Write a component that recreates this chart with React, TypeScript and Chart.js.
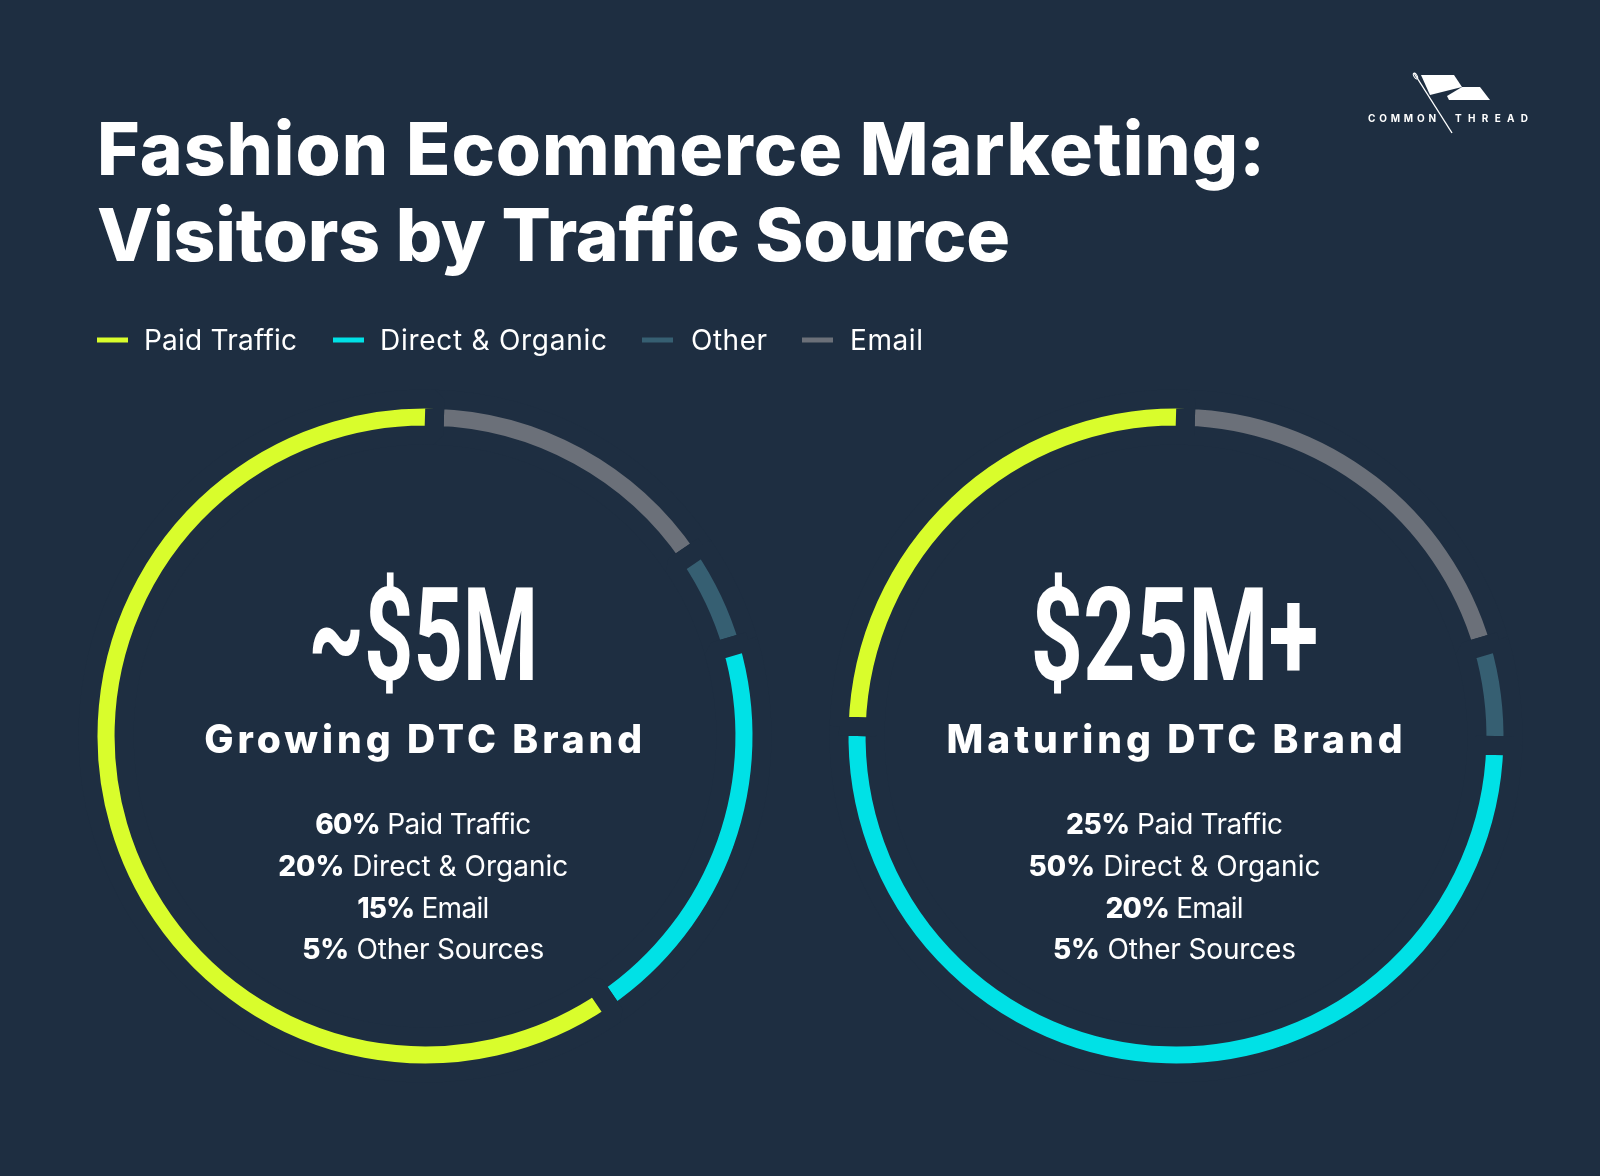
import React, { useEffect, useRef } from "react";
import { Chart, registerables } from "chart.js";

Chart.register(...registerables);

// ---- data ----
const sources = ["Email", "Other", "Direct & Organic", "Paid Traffic"];
const sourceColors = ["#6b7079", "#365f72", "#00e1e6", "#d9fd2c"];
const growingValues = [15, 5, 20, 60];
const maturingValues = [20, 5, 50, 25];
const legendLabels = ["Paid Traffic", "Direct & Organic", "Other", "Email"];
const brandNames = ["Growing DTC Brand", "Maturing DTC Brand"];
const brandRevenue = ["~$5M", "$25M+"];
const statLabels = ["Paid Traffic", "Direct & Organic", "Email", "Other Sources"];
const statSourceIndex = [3, 2, 0, 1];
const titleLines = ["Fashion Ecommerce Marketing:", "Visitors by Traffic Source"];

// ---- layout / style ----
const BG = "#1e2e41";
const FONT = "Inter, 'Noto Sans', sans-serif";
const RING_SIZE = 700;
const ringCenters = [
  { x: 424.7, y: 735.5 },
  { x: 1176, y: 735.5 },
];
const legendLayout = [
  { line: 97, text: 144, w: 153 },
  { line: 333, text: 380, w: 227 },
  { line: 642, text: 691, w: 76 },
  { line: 802, text: 850, w: 73 },
];
const statWidths = [
  [216, 290, 132, 242],
  [217, 292, 138, 243],
];
const statBaselines = [834, 876, 918, 959];
const brandWidths = [438, 456];
const revenueWidths = [230, 288];
const titleWidths = [1168, 913];

function Ring({ values, cx, cy }: { values: number[]; cx: number; cy: number }) {
  const ref = useRef<HTMLCanvasElement>(null);
  useEffect(() => {
    const chart = new Chart(ref.current as HTMLCanvasElement, {
      type: "doughnut",
      data: {
        labels: sources,
        datasets: [
          {
            data: values,
            backgroundColor: sourceColors,
            borderColor: BG,
            borderWidth: 19,
            hoverBorderWidth: 19,
            hoverOffset: 0,
          },
        ],
      },
      options: {
        animation: false,
        responsive: false,
        maintainAspectRatio: false,
        radius: 337,
        cutout: "89.3%",
        rotation: 1.7,
        events: [],
        layout: { padding: 0 },
        plugins: { legend: { display: false }, tooltip: { enabled: false } },
      } as any,
    });
    return () => chart.destroy();
  }, []);
  return (
    <canvas
      ref={ref}
      width={RING_SIZE}
      height={RING_SIZE}
      style={{
        position: "absolute",
        left: cx - RING_SIZE / 2,
        top: cy - RING_SIZE / 2,
        width: RING_SIZE,
        height: RING_SIZE,
      }}
    />
  );
}

export default function App() {
  const allValues = [growingValues, maturingValues];
  return (
    <div
      style={{
        position: "absolute",
        left: 0,
        top: 0,
        width: 1600,
        height: 1176,
        background: BG,
        overflow: "hidden",
      }}
    >
      {allValues.map((v, i) => (
        <Ring key={i} values={v} cx={ringCenters[i].x} cy={ringCenters[i].y} />
      ))}
      <svg
        width={1600}
        height={1176}
        style={{ position: "absolute", left: 0, top: 0, whiteSpace: "pre" }}
        fontFamily={FONT}
      >
        {/* title */}
        {titleLines.map((t, i) => (
          <text
            key={t}
            x={97}
            y={i === 0 ? 175 : 261}
            fontSize={73}
            fontWeight={800}
            fill="#ffffff"
            textLength={titleWidths[i]}
            lengthAdjust="spacing"
          >
            {t}
          </text>
        ))}

        {/* legend */}
        {legendLabels.map((l, i) => (
          <g key={l}>
            <rect
              x={legendLayout[i].line}
              y={337.5}
              width={31}
              height={5}
              fill={sourceColors[sources.indexOf(l)]}
            />
            <text
              x={legendLayout[i].text}
              y={350}
              fontSize={28}
              fontWeight={400}
              fill="#ffffff"
              textLength={legendLayout[i].w}
              lengthAdjust="spacing"
            >
              {l}
            </text>
          </g>
        ))}

        {/* ring centre texts */}
        {allValues.map((vals, r) => {
          const cx = ringCenters[r].x - 1.5;
          return (
            <g key={r}>
              <text
                x={cx}
                y={680}
                textAnchor="middle"
                fontFamily="Roboto, 'Liberation Sans', sans-serif"
                fontSize={129}
                fontWeight={700}
                fill="#ffffff"
                textLength={revenueWidths[r]}
                lengthAdjust="spacingAndGlyphs"
              >
                {brandRevenue[r]}
              </text>
              <text
                x={cx}
                y={753}
                textAnchor="middle"
                fontSize={39}
                fontWeight={800}
                fill="#ffffff"
                textLength={brandWidths[r]}
                lengthAdjust="spacing"
              >
                {brandNames[r]}
              </text>
              {statLabels.map((lab, k) => (
                <text
                  key={lab}
                  x={cx}
                  y={statBaselines[k]}
                  textAnchor="middle"
                  fontSize={28}
                  fill="#ffffff"
                  textLength={statWidths[r][k]}
                  lengthAdjust="spacing"
                >
                  <tspan fontWeight={800}>{vals[statSourceIndex[k]] + "%"}</tspan>
                  <tspan fontWeight={400}>{" " + lab}</tspan>
                </text>
              ))}
            </g>
          );
        })}

        {/* logo */}
        <g fill="#ffffff">
          <polygon points="1421,75 1454,75 1462,87 1430,95" />
          <polygon points="1447,96 1462,87 1480,87 1490,100 1449,100" />
          <line x1={1414} y1={73} x2={1452} y2={133} stroke="#ffffff" strokeWidth={1.4} />
          <ellipse cx={1415.5} cy={76} rx={1.6} ry={3.2} fill="none" stroke="#ffffff" strokeWidth={1} transform="rotate(-32 1415.5 76)" />
          <text x={1368} y={122} fontSize={10} fontWeight={700} textLength={68} lengthAdjust="spacing">
            COMMON
          </text>
          <text x={1455} y={122} fontSize={10} fontWeight={700} textLength={73} lengthAdjust="spacing">
            THREAD
          </text>
        </g>
      </svg>
    </div>
  );
}
